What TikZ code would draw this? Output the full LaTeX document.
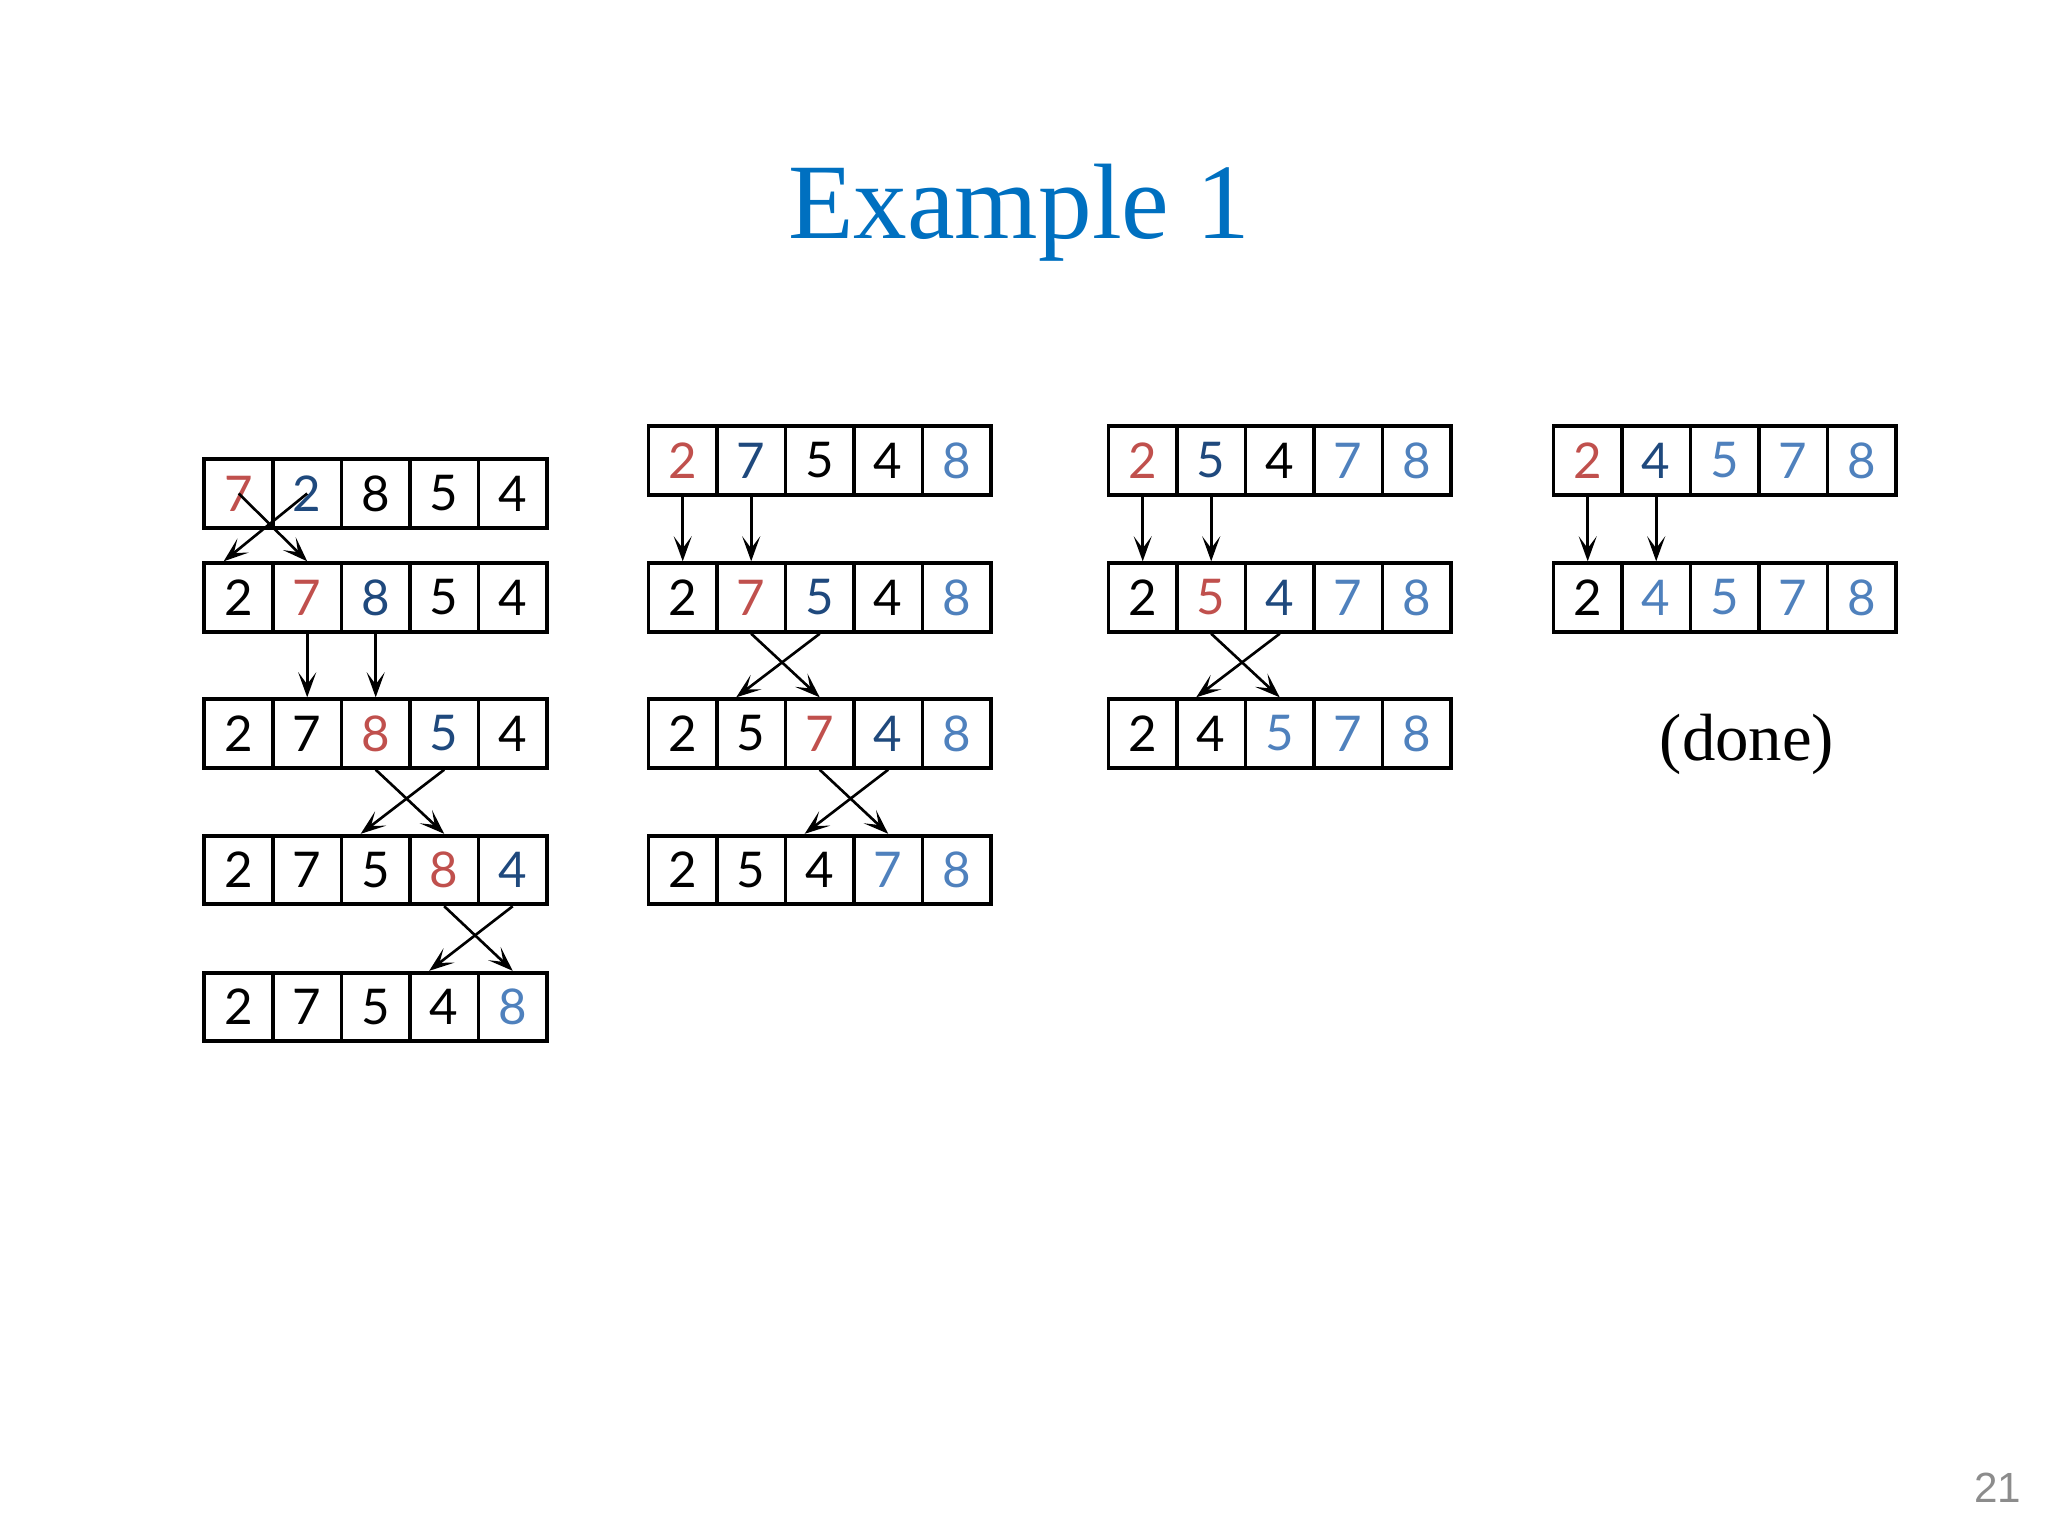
\documentclass[tikz,border=0pt]{standalone}
\usepackage{fontspec}
\usepackage{tikz}
\usetikzlibrary{arrows.meta}
\newfontfamily\digitfont{Lato}
\newfontfamily\pagefont{Liberation Sans}
\newfontfamily\slidefont{Liberation Serif}
\definecolor{hired}{RGB}{192,80,77}
\definecolor{hiblue}{RGB}{31,73,125}
\definecolor{doneblue}{RGB}{79,129,189}
\definecolor{titleblue}{RGB}{0,112,192}
\definecolor{pagegray}{RGB}{140,140,140}

\newcommand{\cellrow}[4]{%
  \foreach \num/\col [count=\i from 0] in {#4}
    \node[cell,text=\col] (#1-\i) at ({#2+\i*68.5},#3) {\num};}

\begin{document}
\begin{tikzpicture}[x=0.01cm, y=-0.01cm]
  \tikzset{cell/.style={draw,line width=1.1pt,minimum width=0.685cm,minimum height=0.685cm,
                        inner sep=0pt,font=\digitfont\fontsize{14}{14}\selectfont},
           mover/.style={-{Stealth[length=2.5mm,width=1.8mm,inset=1.2mm]},line width=0.75pt}}
  \useasboundingbox (0,0) rectangle (2048,1536);
  \node[text=titleblue,font=\slidefont\fontsize{30.5}{30.5}\selectfont,anchor=base] (title) at (1019,238) {Example 1};

  \cellrow{a0}{238.7}{493.5}{7/hired,2/hiblue,8/black,5/black,4/black}
  \cellrow{a1}{238.7}{597.5}{2/black,7/hired,8/hiblue,5/black,4/black}
  \cellrow{a2}{238.7}{733.5}{2/black,7/black,8/hired,5/hiblue,4/black}
  \cellrow{a3}{238.7}{870}{2/black,7/black,5/black,8/hired,4/hiblue}
  \cellrow{a4}{238.7}{1007}{2/black,7/black,5/black,4/black,8/doneblue}

  \cellrow{b0}{682.7}{460.5}{2/hired,7/hiblue,5/black,4/black,8/doneblue}
  \cellrow{b1}{682.7}{597.5}{2/black,7/hired,5/hiblue,4/black,8/doneblue}
  \cellrow{b2}{682.7}{733.5}{2/black,5/black,7/hired,4/hiblue,8/doneblue}
  \cellrow{b3}{682.7}{870}{2/black,5/black,4/black,7/doneblue,8/doneblue}

  \cellrow{c0}{1142.7}{460.5}{2/hired,5/hiblue,4/black,7/doneblue,8/doneblue}
  \cellrow{c1}{1142.7}{597.5}{2/black,5/hired,4/hiblue,7/doneblue,8/doneblue}
  \cellrow{c2}{1142.7}{733.5}{2/black,4/black,5/doneblue,7/doneblue,8/doneblue}

  \cellrow{d0}{1587.7}{460.5}{2/hired,4/hiblue,5/doneblue,7/doneblue,8/doneblue}
  \cellrow{d1}{1587.7}{597.5}{2/black,4/doneblue,5/doneblue,7/doneblue,8/doneblue}

  \draw[mover] (a0-0.center) -- (a1-1.north);
  \draw[mover] (a0-1.center) -- ([xshift=-1.5mm]a1-0.north);
  \draw[mover] (a1-1) -- (a2-1);
  \draw[mover] (a1-2) -- (a2-2);
  \draw[mover] (a2-2.south) -- (a3-3.north);
  \draw[mover] (a2-3.south) -- ([xshift=-1.5mm]a3-2.north);
  \draw[mover] (a3-3.south) -- (a4-4.north);
  \draw[mover] (a3-4.south) -- ([xshift=-1.5mm]a4-3.north);

  \draw[mover] (b0-0) -- (b1-0);
  \draw[mover] (b0-1) -- (b1-1);
  \draw[mover] (b1-1.south) -- (b2-2.north);
  \draw[mover] (b1-2.south) -- ([xshift=-1.5mm]b2-1.north);
  \draw[mover] (b2-2.south) -- (b3-3.north);
  \draw[mover] (b2-3.south) -- ([xshift=-1.5mm]b3-2.north);

  \draw[mover] (c0-0) -- (c1-0);
  \draw[mover] (c0-1) -- (c1-1);
  \draw[mover] (c1-1.south) -- (c2-2.north);
  \draw[mover] (c1-2.south) -- ([xshift=-1.5mm]c2-1.north);

  \draw[mover] (d0-0) -- (d1-0);
  \draw[mover] (d0-1) -- (d1-1);

  \node[font=\slidefont\fontsize{19}{19}\selectfont,anchor=base] (done) at (1747,760) {(done)};
  \node[text=pagegray,font=\pagefont\fontsize{12}{12}\selectfont,anchor=base east,inner sep=0pt] (page) at (2022,1502) {21};
\end{tikzpicture}
\end{document}
